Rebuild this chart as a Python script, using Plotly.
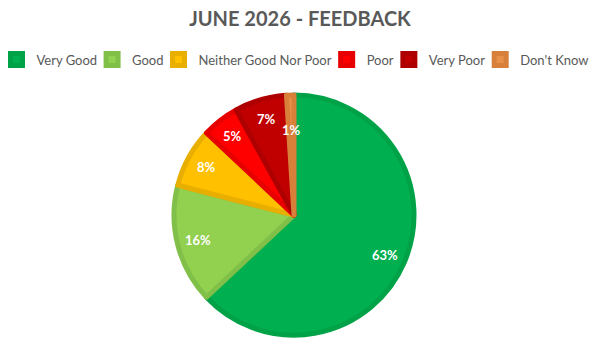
import math
import plotly.graph_objects as go

categories = ["Very Good", "Good", "Neither Good Nor Poor", "Poor", "Very Poor", "Don't Know"]
values = [63, 16, 8, 5, 7, 1]
fill_colors = ["#00B050", "#92D050", "#FFC000", "#FF0000", "#C00000", "#E8914A"]
line_colors = ["#00A247", "#80BF48", "#E8AE00", "#E60000", "#AE0000", "#D8803A"]

W, H = 600, 350
dom_x = [0.25, 0.73]
dom_y = [0.0426, 0.7283]

fig = go.Figure(go.Pie(
    labels=categories,
    values=values,
    sort=False,
    direction="clockwise",
    rotation=0,
    marker=dict(colors=fill_colors, line=dict(color=line_colors, width=5)),
    textinfo="none",
    domain=dict(x=dom_x, y=dom_y),
    hoverinfo="label+percent",
))

# data labels placed along each slice's mid-angle (derived from the values)
total = sum(values)
cx = (dom_x[0] + dom_x[1]) / 2 * W
cy = (1 - (dom_y[0] + dom_y[1]) / 2) * H
radius = min((dom_x[1] - dom_x[0]) * W, (dom_y[1] - dom_y[0]) * H) / 2
cum = 0
annotations = []
for v in values:
    frac = v / total
    ang = 2 * math.pi * (cum + v / 2) / total
    cum += v
    rf = 0.83 if frac >= 0.03 else 0.71
    px = cx + rf * radius * math.sin(ang)
    py = cy - rf * radius * math.cos(ang)
    annotations.append(dict(
        x=px / W, y=1 - py / H, xref="paper", yref="paper",
        text=f"<b>{round(frac * 100)}%</b>", showarrow=False,
        font=dict(family="Lato", size=13, color="white"),
        xanchor="center", yanchor="middle",
    ))

fig.update_layout(
    width=W, height=H,
    margin=dict(l=0, r=0, t=0, b=0),
    paper_bgcolor="white",
    title=dict(text="<b>JUNE 2026 - FEEDBACK</b>", x=0.5, xanchor="center", y=0.945, yanchor="middle",
               font=dict(family="Lato", size=20, color="#595959")),
    legend=dict(orientation="h", x=0.5, xanchor="center", y=0.83, yanchor="middle",
                font=dict(family="Lato", size=13, color="#595959"),
                itemwidth=30, indentation=-10, traceorder="normal"),
    showlegend=True,
    annotations=annotations,
)

fig.write_html("out.html")
